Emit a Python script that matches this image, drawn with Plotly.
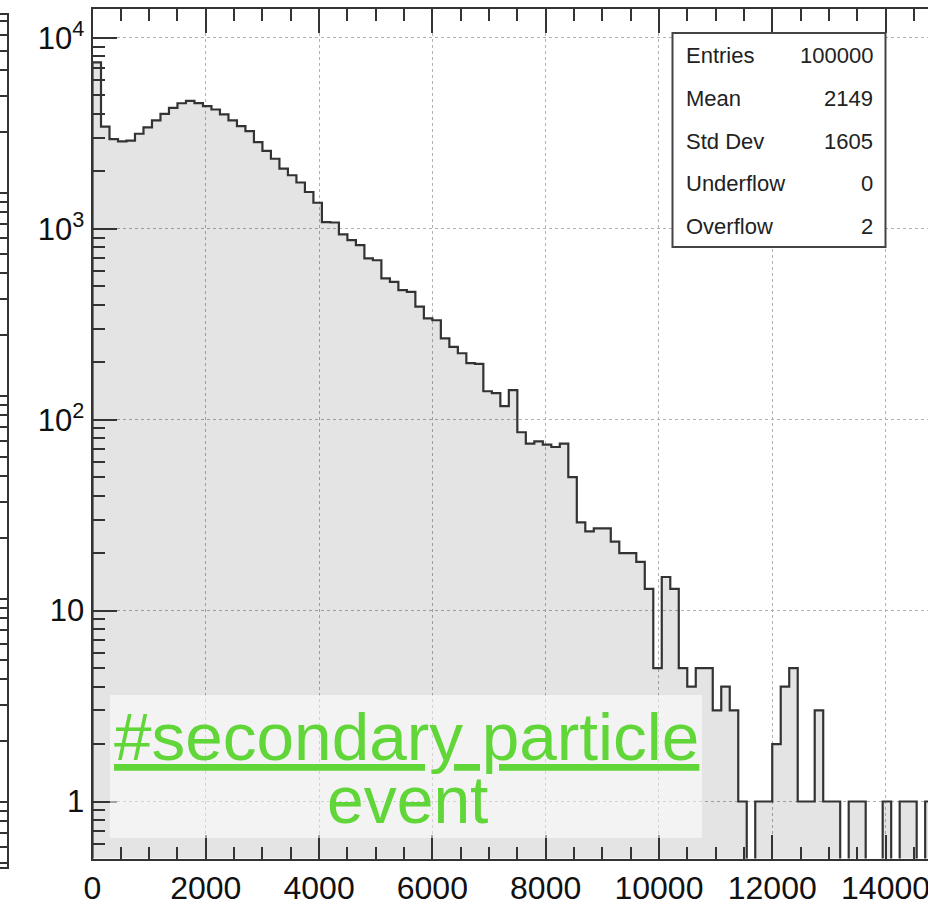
import numpy as np
import plotly.graph_objects as go

W, H = 928, 915

# ---------------- data ----------------
bin_lo = 0
bin_width = 150
counts = [
    7450, 3430, 2950, 2870, 2900, 3150, 3400, 3700, 4000, 4300,
    4550, 4680, 4560, 4400, 4220, 3980, 3700, 3450, 3250, 2850,
    2560, 2330, 2070, 1910, 1750, 1560, 1370, 1085, 1080, 935,
    874, 822, 700, 685, 550, 528, 478, 468, 391, 340,
    332, 267, 241, 223, 198, 196, 141, 138, 118, 143,
    86, 75, 77, 74, 72, 75, 50, 29, 26, 27,
    27, 23, 20, 20, 18, 13, 5, 15, 13, 5,
    4, 5, 5, 3, 4, 3, 1, 0, 1, 1,
    2, 4, 5, 1, 1, 3, 1, 1, 0, 1,
    1, 0, 0, 1, 0, 1, 1, 0, 1,
]

stats_labels = ["Entries", "Mean", "Std Dev", "Underflow", "Overflow"]
stats_values = ["100000", "2149", "1605", "0", "2"]

x_ticks = [0, 2000, 4000, 6000, 8000, 10000, 12000, 14000]
x_ticktext = ["0", "2000", "4000", "6000", "8000", "10000", "12000", "14000"]
y_ticks = [1, 10, 100, 1000, 10000]
y_ticktext = ["1", "10", "10<sup>2</sup>", "10<sup>3</sup>", "10<sup>4</sup>"]

label_line1 = "#secondary particle"
label_line2 = "event"

# ---------------- helpers ----------------
def px(x):
    return x / W

def py(y):
    return 1 - y / H

counts = np.array(counts, dtype=float)
n = len(counts)
edges = bin_lo + bin_width * np.arange(n + 1)
floor = 0.1
yplot = np.where(counts > 0, counts, floor)

xs = [edges[0]] + list(edges[:-1]) + [edges[-1], edges[-1]]
ys = [floor] + list(yplot) + [yplot[-1], floor]

FONT = "Liberation Sans, Arial, Helvetica, sans-serif"
AXC = "#333333"

fig = go.Figure()
fig.add_trace(go.Scatter(
    x=xs, y=ys, mode="lines", line=dict(shape="hv", color="#333333", width=2.2),
    fill="toself", fillcolor="rgba(0,0,0,0.105)", hoverinfo="skip", showlegend=False,
))
# neighbour pad (only its right frame is visible)
fig.add_trace(go.Scatter(
    x=[0.5], y=[10], mode="markers", marker=dict(opacity=0), xaxis="x3", yaxis="y3",
    hoverinfo="skip", showlegend=False,
))

minor_y = [m * 10 ** d for d in range(-1, 5) for m in range(2, 10)]
minor_y = [v for v in minor_y if 0.5 <= v <= 15000]
minor_y3 = [m * 10 ** d for d in range(-1, 4) for m in range(2, 10)]

fig.update_layout(
    width=W, height=H,
    margin=dict(l=0, r=0, t=0, b=0),
    paper_bgcolor="white", plot_bgcolor="white",
    showlegend=False,
    font=dict(family=FONT, color="#111111"),
    xaxis=dict(
        domain=[px(92.5), 1], range=[0, 14750], anchor="y",
        tickvals=x_ticks, ticktext=x_ticktext, ticklabeloverflow="allow",
        ticks="inside", ticklen=24, tickwidth=1.5, tickcolor=AXC,
        minor=dict(dtick=500, ticks="inside", ticklen=12, tickwidth=1.5, tickcolor=AXC, showgrid=False),
        showline=True, linecolor=AXC, linewidth=2, mirror="ticks",
        showgrid=True, gridcolor="#b0b0b0", gridwidth=1, griddash="3px,3px",
        zeroline=False, tickfont=dict(size=32, family=FONT, color="#111111"),
        automargin=False,
    ),
    yaxis=dict(
        domain=[py(858.5), py(8.5)], type="log", range=[-0.2986, 4.1545], anchor="x",
        tickvals=y_ticks, ticktext=y_ticktext, ticks="inside", ticklen=24, tickwidth=1.5, tickcolor=AXC,
        minor=dict(tickvals=minor_y, ticks="inside", ticklen=12, tickwidth=1.5, tickcolor=AXC, showgrid=False),
        showline=True, linecolor=AXC, linewidth=2,
        showgrid=True, gridcolor="#b0b0b0", gridwidth=1, griddash="3px,3px",
        zeroline=False, tickfont=dict(size=31, family=FONT, color="#111111"),
        automargin=False,
    ),
    xaxis3=dict(
        domain=[0, px(7)], range=[0, 1], anchor="y3",
        showline=True, linecolor=AXC, linewidth=2, mirror=True,
        ticks="", showticklabels=False, showgrid=False, zeroline=False,
    ),
    yaxis3=dict(
        domain=[py(867), py(15)], type="log", range=[-0.3217, 3.875], anchor="x3", side="right",
        tickvals=[1, 10, 100, 1000], ticks="inside", ticklen=10, tickwidth=1.5, tickcolor=AXC,
        minor=dict(tickvals=minor_y3, ticks="inside", ticklen=7, tickwidth=1.5, tickcolor=AXC, showgrid=False),
        showline=True, linecolor=AXC, linewidth=2,
        showticklabels=False, showgrid=False, zeroline=False,
    ),
)

shapes = [
    # stats box
    dict(type="rect", xref="paper", yref="paper", x0=px(672.5), x1=px(885.5), y0=py(247), y1=py(33),
         fillcolor="white", line=dict(color="#444444", width=2), layer="above"),
    # label box
    dict(type="rect", xref="paper", yref="paper", x0=px(110), x1=px(702), y0=py(838), y1=py(695),
         fillcolor="rgba(255,255,255,0.55)", line=dict(width=0), layer="above"),
]
fig.update_layout(shapes=shapes)

ann = []
for i, (lab, val) in enumerate(zip(stats_labels, stats_values)):
    yc = 55.8 + 42.7 * i
    ann.append(dict(xref="paper", yref="paper", x=px(684), y=py(yc), xanchor="left", yanchor="middle",
                    text=lab, showarrow=False, font=dict(size=22, family=FONT, color="#222222")))
    ann.append(dict(xref="paper", yref="paper", x=px(875), y=py(yc), xanchor="right", yanchor="middle",
                    text=val, showarrow=False, font=dict(size=22, family=FONT, color="#222222")))

GREEN = "rgb(96,214,56)"
ann.append(dict(xref="paper", yref="paper", x=px(406.5), y=py(736), xanchor="center", yanchor="middle",
                text="<u>" + label_line1 + "</u>", showarrow=False,
                font=dict(size=67.5, family=FONT, color=GREEN)))
ann.append(dict(xref="paper", yref="paper", x=px(407), y=py(800), xanchor="center", yanchor="middle",
                text=label_line2, showarrow=False,
                font=dict(size=66, family=FONT, color=GREEN)))
fig.update_layout(annotations=ann)

fig.write_html("out.html")
